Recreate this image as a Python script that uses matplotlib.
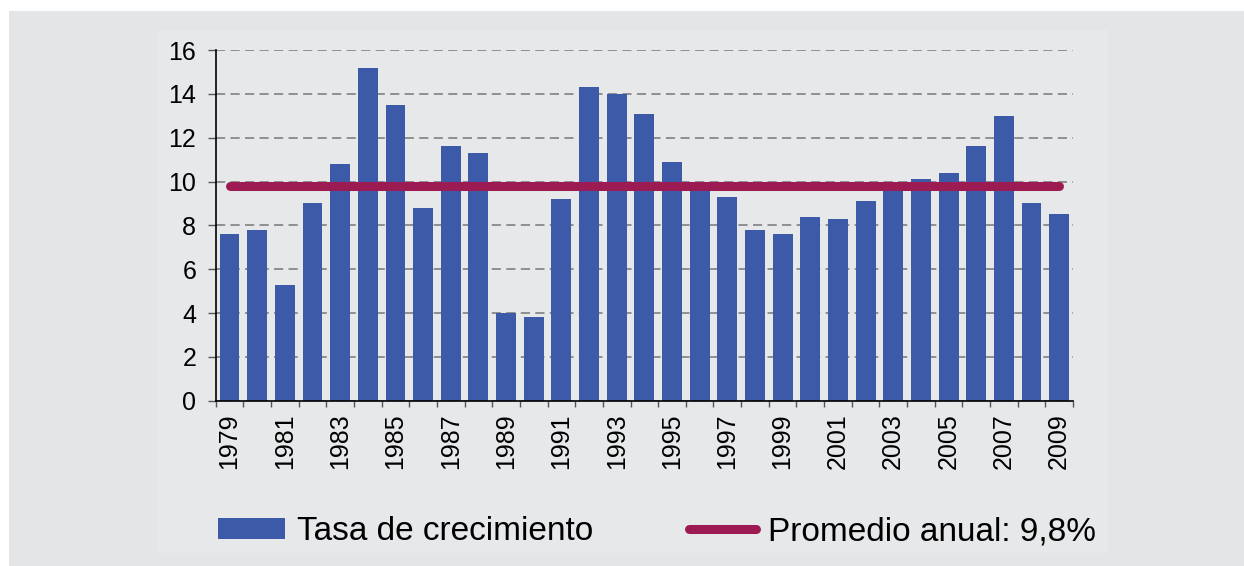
import numpy as np
import matplotlib
matplotlib.use("Agg")
import matplotlib.pyplot as plt
from matplotlib.patches import Rectangle, Patch
from matplotlib.lines import Line2D

plt.rcParams['font.family'] = ['Liberation Sans', 'DejaVu Sans']

# datos
years = list(range(1979, 2010))
tasa = [7.6, 7.8, 5.3, 9.0, 10.8, 15.2, 13.5, 8.8, 11.6, 11.3,
        4.0, 3.8, 9.2, 14.3, 14.0, 13.1, 10.9, 10.0, 9.3, 7.8,
        7.6, 8.4, 8.3, 9.1, 10.0, 10.1, 10.4, 11.6, 13.0, 9.0, 8.5]
promedio = 9.8
yticks = [0, 2, 4, 6, 8, 10, 12, 14, 16]

azul = '#3d5aa8'
granate = '#9b1b52'

fig = plt.figure(figsize=(12.44, 5.66), dpi=100)
fig.patch.set_facecolor('white')
# fondo gris
fig.patches.append(Rectangle((9 / 1244, 0), 1, 1 - 11 / 566, transform=fig.transFigure,
                             facecolor='#e4e5e7', edgecolor='none', zorder=-2))
fig.patches.append(Rectangle((157 / 1244, 1 - 553 / 566), (1108 - 157) / 1244, (553 - 30) / 566,
                             transform=fig.transFigure, facecolor='#e7e8ea', edgecolor='none', zorder=-1))

ax = fig.add_axes([215.7 / 1244, 1 - 400.7 / 566, (1073 - 215.7) / 1244, (400.7 - 50) / 566])
ax.set_facecolor('none')

x = np.arange(len(years))
ax.bar(x, tasa, width=0.72, color=azul, zorder=2)
ax.plot([x[0], x[-1]], [promedio, promedio], color=granate, lw=6.5,
        solid_capstyle='round', zorder=3)

ax.set_xlim(-0.5, len(years) - 0.5)
ax.set_ylim(0, 16)
ax.set_yticks(yticks)
ax.grid(axis='y', color='#777777', linestyle=(0, (6, 3.5)), lw=1.1, zorder=0)

ax.set_xticks(x[::2])
ax.set_xticklabels([str(y) for y in years[::2]], rotation=90)
ax.set_xticks(np.arange(-0.5, len(years)), minor=True)
ax.tick_params(axis='x', which='major', length=0, pad=9, labelsize=18)
ax.tick_params(axis='x', which='minor', length=4, width=1, color='#555555')
ax.tick_params(axis='y', length=6, width=1, pad=8, labelsize=18, color='#555555')

for s in ['top', 'right']:
    ax.spines[s].set_visible(False)
ax.spines['left'].set_linewidth(1.2)
ax.spines['bottom'].set_linewidth(1.2)

handles = [Patch(facecolor=azul, edgecolor='none'),
           Line2D([0], [0], color=granate, lw=6.5, solid_capstyle='round')]
labels = ['Tasa de crecimiento', 'Promedio anual: 9,8%']
fig.legend(handles, labels, loc='center', bbox_to_anchor=(657 / 1244, 1 - 532 / 566),
           ncol=2, frameon=False, fontsize=24, handlelength=2.0, handleheight=0.6,
           handletextpad=0.35, columnspacing=2.9)

fig.savefig('out.png', dpi=100)
